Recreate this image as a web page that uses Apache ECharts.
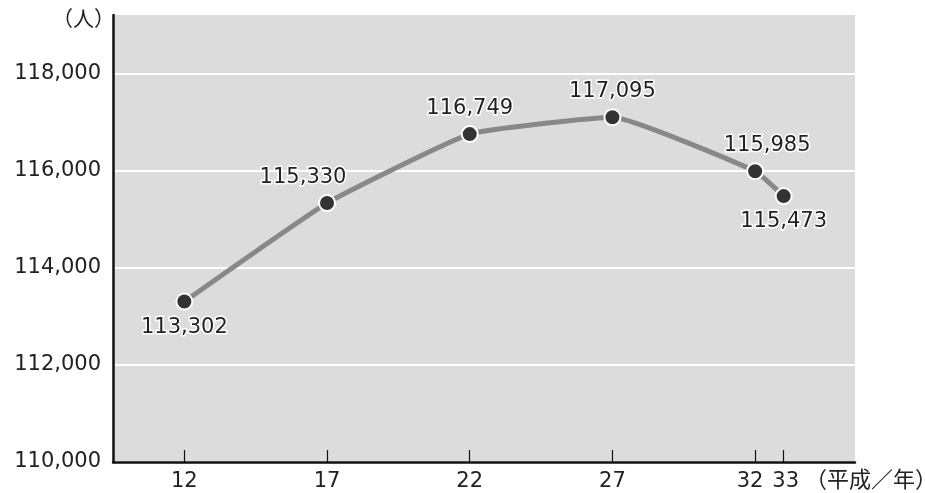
<!DOCTYPE html>
<html><head><meta charset="utf-8">
<script src="https://cdn.jsdelivr.net/npm/echarts@6/dist/echarts.min.js"></script>
<style>html,body{margin:0;padding:0;background:#fff}#c{width:925px;height:493px}</style>
</head><body><div id="c"></div>
<script>
const years = [12, 17, 22, 27, 32, 33];
const population = [113302, 115330, 116749, 117095, 115985, 115473];
const labelPositions = ['bottom', 'top', 'top', 'top', 'top', 'bottom'];
const yTicks = [110000, 112000, 114000, 116000, 118000];
const yUnit = '（人）';
const xUnit = '（平成／年）';

const NUMFONT = '"DejaVu Sans", sans-serif';
const JPFONT = '"Noto Sans CJK JP", sans-serif';
const chart = echarts.init(document.getElementById('c'), null, {renderer: 'canvas'});
const fmt = v => v.toLocaleString('en-US');
const labelShift = [0, -24, 0, 0, 12, 0];

const points = years.map((y, i) => ({
  value: [y, population[i]],
  label: {position: labelPositions[i], offset: [labelShift[i], 0]}
}));

chart.setOption({
  animation: false,
  grid: {left: 113, right: 70, top: 15, bottom: 31, show: true, backgroundColor: '#dcdcdc', borderWidth: 0},
  xAxis: {
    type: 'value', min: 9.5, max: 35.5,
    axisLine: {show: true, onZero: false, lineStyle: {color: '#111', width: 2.5}},
    axisTick: {show: true, inside: true, length: 12, customValues: years, lineStyle: {color: '#111', width: 1.2}},
    axisLabel: {
      customValues: years, color: '#222', fontSize: 21, fontFamily: NUMFONT, margin: 9,
      formatter: v => v === 32 ? '{l|' + v + '}' : (v === 33 ? '{r|' + v + '}' : String(v)),
      rich: {
        l: {fontSize: 21, fontFamily: NUMFONT, color: '#222', padding: [0, 10, 0, 0]},
        r: {fontSize: 21, fontFamily: NUMFONT, color: '#222', padding: [0, 0, 0, 4]}
      }
    },
    splitLine: {show: false}
  },
  yAxis: {
    type: 'value', min: 110000, max: 119200,
    axisLine: {show: true, lineStyle: {color: '#111', width: 2.5}},
    axisTick: {show: false, customValues: yTicks},
    axisLabel: {customValues: yTicks, formatter: fmt, color: '#222', fontSize: 21, fontFamily: NUMFONT, margin: 12},
    splitLine: {show: true, lineStyle: {color: '#ffffff', width: 2}}
  },
  graphic: [
    {type: 'text', left: 52, top: 8, style: {text: yUnit, font: '21px ' + JPFONT, fill: '#222'}},
    {type: 'text', left: 805, top: 468, style: {text: xUnit, font: '22px ' + JPFONT, fill: '#222'}}
  ],
  series: [{
    type: 'line',
    data: points,
    smooth: 0.12,
    symbol: 'circle',
    symbolSize: 16,
    lineStyle: {color: '#888888', width: 5},
    itemStyle: {color: '#333333', borderColor: '#ffffff', borderWidth: 2},
    label: {
      show: true, distance: 6,
      formatter: p => fmt(p.value[1]),
      color: '#222', fontSize: 21, fontFamily: NUMFONT,
      textBorderColor: '#ffffff', textBorderWidth: 3
    }
  }]
});
</script></body></html>
